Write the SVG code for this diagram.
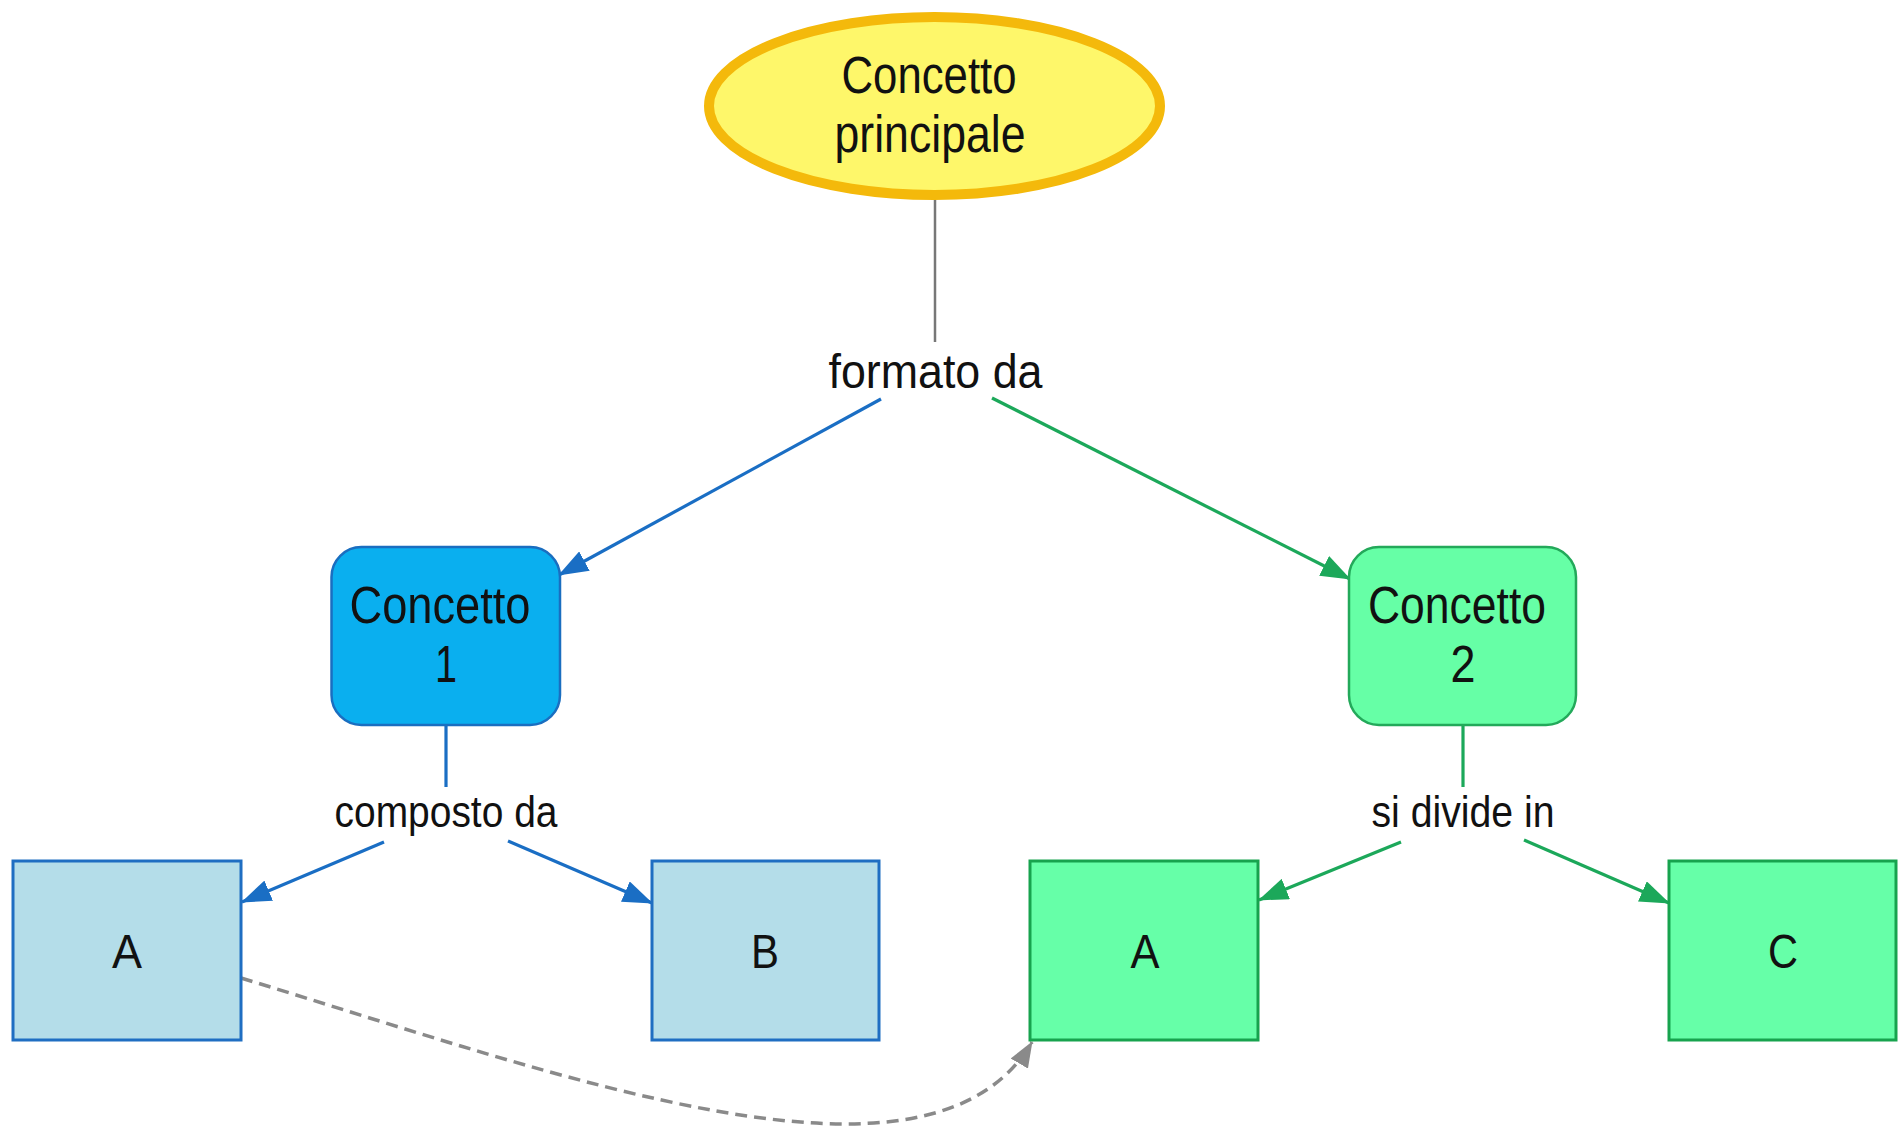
<svg xmlns="http://www.w3.org/2000/svg" width="1898" height="1127" viewBox="0 0 1898 1127">
<defs>
<style>
text{font-family:"Liberation Sans",Arial,sans-serif;fill:#111;text-anchor:middle}
.big{font-size:51px}
.mid{font-size:49px}
.lbl{font-size:45px}
.blueLine{stroke:#1A6EC4;stroke-width:3.2;fill:none}
.greenLine{stroke:#1CA85A;stroke-width:3.2;fill:none}
.grayLine{stroke:#777;stroke-width:2.5;fill:none}
.dash{stroke:#8A8A8A;stroke-width:3.5;fill:none;stroke-dasharray:12 7}
.bbox{fill:#B4DDE9;stroke:#1F6EC2;stroke-width:3}
.gbox{fill:#66FFA8;stroke:#17A34E;stroke-width:3}
</style>
<marker id="ab" markerUnits="userSpaceOnUse" markerWidth="30" markerHeight="22" refX="29" refY="11" orient="auto"><path d="M0,0 L30,11 L0,22 z" fill="#1A6EC4"/></marker>
<marker id="ag" markerUnits="userSpaceOnUse" markerWidth="30" markerHeight="22" refX="29" refY="11" orient="auto"><path d="M0,0 L30,11 L0,22 z" fill="#1CA85A"/></marker>
<marker id="ay" markerUnits="userSpaceOnUse" markerWidth="26" markerHeight="20" refX="25" refY="10" orient="auto"><path d="M0,0 L26,10 L0,20 z" fill="#8A8A8A"/></marker>
</defs>
<rect width="1898" height="1127" fill="#fff"/>
<g id="connectors">
<line class="grayLine" x1="935" y1="200" x2="935" y2="342"/>
<line class="blueLine" x1="881" y1="399" x2="559" y2="575" marker-end="url(#ab)"/>
<line class="greenLine" x1="992" y1="398" x2="1350" y2="579" marker-end="url(#ag)"/>
<line class="blueLine" x1="446" y1="726" x2="446" y2="787"/>
<line class="greenLine" x1="1463" y1="726" x2="1463" y2="787"/>
<line class="blueLine" x1="384" y1="842" x2="242" y2="902" marker-end="url(#ab)"/>
<line class="blueLine" x1="508" y1="841" x2="652" y2="903" marker-end="url(#ab)"/>
<line class="greenLine" x1="1401" y1="842" x2="1259" y2="900" marker-end="url(#ag)"/>
<line class="greenLine" x1="1524" y1="840" x2="1669" y2="903" marker-end="url(#ag)"/>
<path class="dash" d="M241,978 C560,1075 930,1215 1032,1042" marker-end="url(#ay)"/>
</g>
<g id="concetto-principale">
<ellipse cx="934.5" cy="106" rx="225.5" ry="89" fill="#FEF76A" stroke="#F4B90B" stroke-width="10"/>
<text class="big" x="929" y="93" textLength="175" lengthAdjust="spacingAndGlyphs">Concetto</text>
<text class="big" x="930" y="152" textLength="191" lengthAdjust="spacingAndGlyphs">principale</text>
</g>
<g id="label-formato">
<text class="mid" x="935.5" y="388" textLength="214" lengthAdjust="spacingAndGlyphs">formato da</text>
</g>
<g id="concetto-1">
<rect x="331.5" y="547" width="228.5" height="178" rx="30" fill="#0AAFEF" stroke="#1A6EC0" stroke-width="2.5"/>
<text class="big" x="440" y="623" textLength="181" lengthAdjust="spacingAndGlyphs">Concetto</text>
<text class="big" x="446" y="682" textLength="22" lengthAdjust="spacingAndGlyphs">1</text>
</g>
<g id="concetto-2">
<rect x="1349" y="547" width="227" height="178" rx="30" fill="#66FFA6" stroke="#23A95A" stroke-width="2.5"/>
<text class="big" x="1457" y="623" textLength="178" lengthAdjust="spacingAndGlyphs">Concetto</text>
<text class="big" x="1463" y="682" textLength="25" lengthAdjust="spacingAndGlyphs">2</text>
</g>
<g id="label-composto">
<text class="lbl" x="446" y="827" textLength="223" lengthAdjust="spacingAndGlyphs">composto da</text>
</g>
<g id="label-divide">
<text class="lbl" x="1463" y="827" textLength="183" lengthAdjust="spacingAndGlyphs">si divide in</text>
</g>
<g id="box-a1">
<rect class="bbox" x="13" y="861" width="228" height="179"/>
<text class="mid" x="127" y="968" textLength="30" lengthAdjust="spacingAndGlyphs">A</text>
</g>
<g id="box-b">
<rect class="bbox" x="652" y="861" width="227" height="179"/>
<text class="mid" x="765" y="968" textLength="28" lengthAdjust="spacingAndGlyphs">B</text>
</g>
<g id="box-a2">
<rect class="gbox" x="1030" y="861" width="228" height="179"/>
<text class="mid" x="1145" y="968" textLength="29" lengthAdjust="spacingAndGlyphs">A</text>
</g>
<g id="box-c">
<rect class="gbox" x="1669" y="861" width="227" height="179"/>
<text class="mid" x="1783" y="968" textLength="30" lengthAdjust="spacingAndGlyphs">C</text>
</g>
</svg>
